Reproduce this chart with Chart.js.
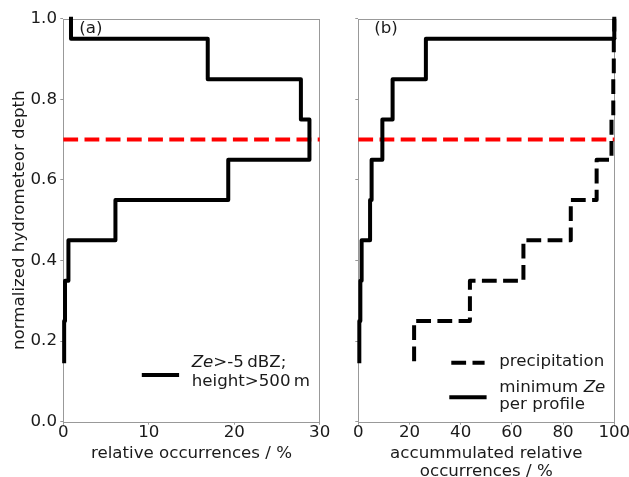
<!DOCTYPE html>
<html>
<head>
<meta charset="utf-8">
<script src="https://cdn.jsdelivr.net/npm/chart.js@4.4.0/dist/chart.umd.min.js"></script>
<style>
  html, body { margin: 0; padding: 0; background: #fff; overflow: hidden; }
  #wrapA { position: absolute; left: 0; top: 0; width: 340px; height: 477px; }
  #wrapB { position: absolute; left: 330px; top: 0; width: 302px; height: 477px; }
</style>
</head>
<body>
<div id="wrapA"><canvas id="chartA"></canvas></div>
<div id="wrapB"><canvas id="chartB"></canvas></div>
<script>
// lower edges of the depth bins, and the top of the profile
var binEdges = [0.15, 0.25, 0.35, 0.45, 0.55, 0.65, 0.75, 0.85, 0.95];
var topEdge = 1.0;
// (a) relative occurrences per depth bin, %
var relOcc = [0.1, 0.2, 0.6, 6.1, 19.3, 28.8, 27.8, 16.9, 0.9];
// (b) accumulated relative occurrences, %
var accPrecip = [21.8, 43.6, 64.5, 83.0, 93.1, 98.9, 99.6, 99.8, 100];
var accMinZe = [0.4, 0.8, 1.3, 4.6, 5.2, 9.4, 13.4, 26.4, 100];
// threshold depth
var threshold = 0.7;
var xRangeA = [0, 30];
var xRangeB = [0, 100];

var FONT = 'DejaVu Sans';
var FSIZE = 16.67;
var TEXT = '#1a1a1a';
var SPINE = '#999999';
var DASH = [14.8, 6.4];

Chart.defaults.font.family = FONT;
Chart.defaults.font.size = FSIZE;
Chart.defaults.color = TEXT;

// one point per bin edge, the last value is held up to the top
function stepPoints(values) {
    var pts = values.map(function (v, i) {
        return { x: v, y: binEdges[i] };
    });
    pts.push({ x: values[values.length - 1], y: topEdge });
    return pts;
}

function stepSet(values, dashed) {
    return {
        data: stepPoints(values),
        showLine: true,
        stepped: 'after',
        borderColor: '#000',
        borderWidth: 4,
        borderDash: dashed ? DASH : [],
        borderCapStyle: dashed ? 'butt' : 'square',
        borderJoinStyle: 'round',
        pointRadius: 0,
        clip: false
    };
}

function thresholdSet(range) {
    return {
        data: [{ x: range[0], y: threshold }, { x: range[1], y: threshold }],
        showLine: true,
        borderColor: '#ff0000',
        borderWidth: 4,
        borderDash: DASH,
        borderCapStyle: 'butt',
        pointRadius: 0,
        clip: false
    };
}

// frame round the plot area
var framePlugin = {
    id: 'frame',
    beforeDatasetsDraw: function (chart) {
        var a = chart.chartArea, ctx = chart.ctx;
        ctx.save();
        ctx.strokeStyle = SPINE;
        ctx.lineWidth = 1;
        ctx.strokeRect(Math.round(a.left) + 0.5, Math.round(a.top) + 0.5,
            Math.round(a.right - a.left), Math.round(a.bottom - a.top));
        ctx.restore();
    }
};

// text made of upright and italic pieces
function drawRich(ctx, parts, x, y) {
    parts.forEach(function (p) {
        ctx.font = (p.it ? 'italic ' : '') + FSIZE + 'px "' + FONT + '"';
        ctx.fillText(p.t, x, y);
        x += ctx.measureText(p.t).width;
    });
}

function drawSample(ctx, x0, x1, y, dashed) {
    ctx.save();
    ctx.strokeStyle = '#000';
    ctx.lineWidth = 4;
    ctx.setLineDash(dashed ? DASH : []);
    ctx.lineCap = dashed ? 'butt' : 'square';
    ctx.beginPath();
    ctx.moveTo(x0, y);
    ctx.lineTo(x1, y);
    ctx.stroke();
    ctx.restore();
}

// panel letter and legend, placed from the plot area
function annotPlugin(letter, legend) {
    return {
        id: 'annot',
        afterDatasetsDraw: function (chart) {
            var a = chart.chartArea, ctx = chart.ctx;
            ctx.save();
            ctx.fillStyle = TEXT;
            ctx.textBaseline = 'middle';
            ctx.textAlign = 'left';
            ctx.font = FSIZE + 'px "' + FONT + '"';
            ctx.fillText(letter, a.left + 16, a.top + 9.6);
            legend.forEach(function (item) {
                drawSample(ctx, a.left + item.x0, a.left + item.x1, a.bottom - item.dy, item.dashed);
                item.lines.forEach(function (ln, i) {
                    drawRich(ctx, ln, a.left + item.tx, a.bottom - item.ty + i * item.gap);
                });
            });
            ctx.restore();
        }
    };
}

function axes(range, step, xTitle, yWidth, showY) {
    var tickFont = { family: FONT, size: FSIZE, lineHeight: 1 };
    return {
        x: {
            type: 'linear', min: range[0], max: range[1],
            ticks: { stepSize: step, font: tickFont, padding: 0, maxRotation: 0, autoSkip: false },
            grid: { drawOnChartArea: false, drawTicks: true, tickLength: 3, color: SPINE },
            border: { display: false },
            title: {
                display: true, text: xTitle,
                font: { family: FONT, size: FSIZE, lineHeight: 1.1 },
                padding: { top: 0, bottom: Array.isArray(xTitle) ? -4 : 14 }
            },
            afterFit: function (s) { s.height = 55.3; }
        },
        y: {
            type: 'linear', min: 0, max: 1,
            ticks: {
                stepSize: 0.2, font: tickFont, padding: 3.3, autoSkip: false,
                callback: function (v) { return showY ? v.toFixed(1) : ''; }
            },
            grid: { drawOnChartArea: false, drawTicks: true, tickLength: 3, color: SPINE },
            border: { display: false },
            title: {
                display: showY, text: 'normalized hydrometeor depth',
                font: { family: FONT, size: FSIZE, lineHeight: 1.2 },
                padding: { top: 10, bottom: 0 }
            },
            afterFit: function (s) { s.width = yWidth; }
        }
    };
}

function baseOptions(scales, padRight) {
    return {
        responsive: true,
        maintainAspectRatio: false,
        animation: false,
        events: [],
        layout: { padding: { top: 18.7, right: padRight, bottom: 0, left: 0 } },
        plugins: { legend: { display: false }, tooltip: { enabled: false } },
        scales: scales
    };
}

new Chart(document.getElementById('chartA'), {
    type: 'scatter',
    data: { datasets: [stepSet(relOcc, false), thresholdSet(xRangeA)] },
    options: baseOptions(axes(xRangeA, 10, 'relative occurrences / %', 63.3, true), 20.3),
    plugins: [framePlugin, annotPlugin('(a)', [
        { x0: 80.5, x1: 113.8, dy: 46.7, dashed: false, tx: 128.4, ty: 59, gap: 19.3,
          lines: [[{ t: 'Ze', it: true }, { t: '>-5\u2009dBZ;' }], [{ t: 'height>500\u2009m' }]] }
    ])]
});

new Chart(document.getElementById('chartB'), {
    type: 'scatter',
    data: { datasets: [stepSet(accMinZe, false), stepSet(accPrecip, true), thresholdSet(xRangeB)] },
    options: baseOptions(axes(xRangeB, 20, ['accummulated relative', 'occurrences / %'], 28.3, false), 17.7),
    plugins: [framePlugin, annotPlugin('(b)', [
        { x0: 93, x1: 126.3, dy: 59, dashed: true, tx: 141, ty: 60.3, gap: 0,
          lines: [[{ t: 'precipitation' }]] },
        { x0: 93, x1: 126.3, dy: 24.4, dashed: false, tx: 141, ty: 34, gap: 17,
          lines: [[{ t: 'minimum ' }, { t: 'Ze', it: true }], [{ t: 'per profile' }]] }
    ])]
});
</script>
</body>
</html>
